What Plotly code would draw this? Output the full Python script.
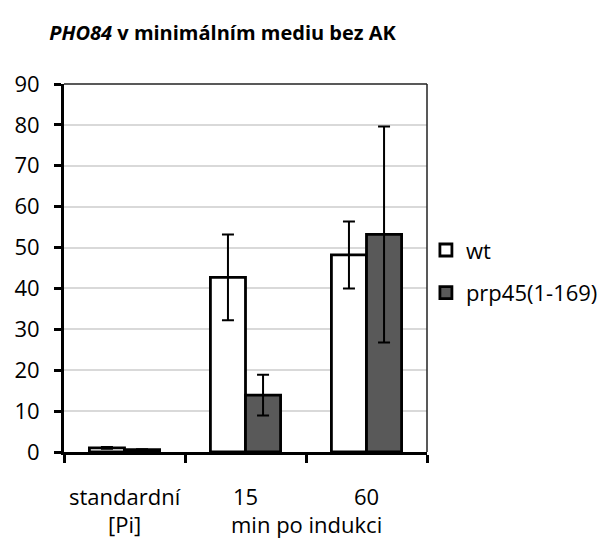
import plotly.graph_objects as go

# Categories and values
categories = ["standardní", "15", "60"]
wt_values = [1.0, 42.7, 48.2]
wt_errors = [0.2, 10.5, 8.2]
prp_values = [0.6, 13.9, 53.2]
prp_errors = [0.1, 5.0, 26.4]
series_names = ["wt", "prp45(1-169)"]
y_ticks = [0, 10, 20, 30, 40, 50, 60, 70, 80, 90]
second_row = [(0, "[Pi]"), (1.5, "min po indukci")]

FONT = "Open Sans"
TICK_SIZE = 22

fig = go.Figure()
fig.add_trace(go.Bar(
    x=categories, y=wt_values, name=series_names[0], legendgroup="a",
    marker=dict(color="white", line=dict(color="black", width=2.8)),
    error_y=dict(type="data", array=wt_errors, visible=True,
                 color="black", thickness=2, width=6),
))
fig.add_trace(go.Bar(
    x=categories, y=prp_values, name=series_names[1], legendgroup="b",
    marker=dict(color="#595959", line=dict(color="black", width=2.8)),
    error_y=dict(type="data", array=prp_errors, visible=True,
                 color="black", thickness=2, width=6),
))

fig.update_layout(
    width=616, height=539,
    margin=dict(l=64, r=189, t=84, b=87),
    paper_bgcolor="white", plot_bgcolor="white",
    barmode="group", bargap=0.42, bargroupgap=0,
    font=dict(family=FONT, size=TICK_SIZE, color="black"),
    title=dict(
        text="<b><i>PHO84</i> v minimálním mediu bez AK</b>",
        font=dict(family=FONT, size=20, color="black"),
        x=0.08, xanchor="left", xref="container",
        y=1 - 33 / 539, yanchor="middle", yref="container",
    ),
    legend=dict(
        x=0.997, y=0.49, xanchor="left", yanchor="middle",
        font=dict(family=FONT, size=TICK_SIZE), tracegroupgap=11,
        traceorder="grouped", itemwidth=30, bgcolor="rgba(0,0,0,0)",
    ),
    showlegend=True,
)

fig.update_xaxes(
    type="category", categoryorder="array", categoryarray=categories,
    range=[-0.5, 2.5],
    showticklabels=False, showline=True, linecolor="black", linewidth=3,
    ticks="outside", tickson="boundaries", ticklen=8, tickwidth=2.5,
    tickcolor="black", showgrid=False, zeroline=False,
)
fig.update_yaxes(
    range=[0, 90], tickvals=y_ticks, showline=True, linecolor="black",
    linewidth=3, ticks="outside", ticklen=7, tickwidth=2.5, tickcolor="black",
    ticklabelstandoff=10,
    showgrid=True, gridcolor="#d9d9d9", gridwidth=1.5, zeroline=False,
    tickfont=dict(family=FONT, size=TICK_SIZE),
)

# Thin border on the top and right sides of the plot area
fig.add_shape(type="line", xref="paper", yref="paper", x0=0, x1=1, y0=1, y1=1,
              line=dict(color="#222222", width=1.5))
fig.add_shape(type="line", xref="paper", yref="paper", x0=1, x1=1, y0=0, y1=1,
              line=dict(color="#222222", width=1.5))

# Category labels below the axis (positions given as category indices)
for i, cat in enumerate(categories):
    fig.add_annotation(x=i, y=0, xref="x", yref="paper", text=cat,
                       showarrow=False, yanchor="middle", yshift=-44,
                       font=dict(family=FONT, size=TICK_SIZE))
for pos, text in second_row:
    fig.add_annotation(x=pos, y=0, xref="x", yref="paper", text=text,
                       showarrow=False, yanchor="middle", yshift=-72,
                       font=dict(family=FONT, size=TICK_SIZE))

fig.write_html("out.html")
